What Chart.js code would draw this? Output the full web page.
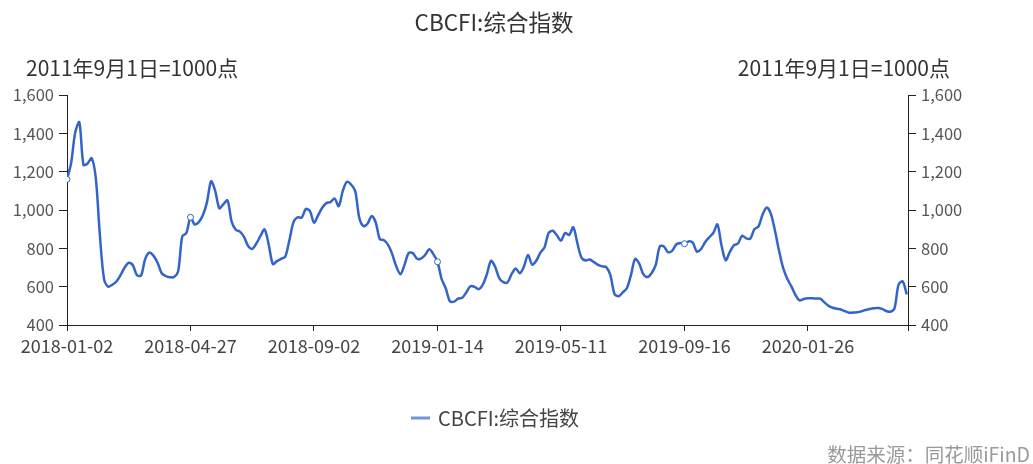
<!DOCTYPE html>
<html><head><meta charset="utf-8">
<script src="https://cdn.jsdelivr.net/npm/chart.js@4"></script>
<style>html,body{margin:0;padding:0;background:#fff;}#wrap{width:1033px;height:464px;position:relative;}</style>
</head><body><div id="wrap"><canvas id="c" width="1033" height="464"></canvas></div>
<script>
const titleText = 'CBCFI:综合指数';
const seriesName = 'CBCFI:综合指数';
const unitText = '2011年9月1日=1000点';
const sourceText = '数据来源：同花顺iFinD';
const tickDates = ['2018-01-02','2018-04-27','2018-09-02','2019-01-14','2019-05-11','2019-09-16','2020-01-26'];
const pointsPerTick = 30;
const xEnd = 204.3;
const yTicks = [400, 600, 800, 1000, 1200, 1400, 1600];
const markedIdx = [0, 30, 90, 150];
const values = [
1160,1245,1405,1458,1235,1243,1270,1165,865,640,
600,610,627,660,700,725,712,660,658,745,
778,762,725,670,655,649,650,680,863,880,
962,925,937,973,1040,1150,1100,1009,1030,1050,
939,897,887,860,812,797,825,865,899,820,
718,733,745,756,840,935,962,960,1005,995,
934,972,1012,1036,1041,1060,1020,1100,1147,1133,
1100,960,916,928,968,935,848,842,818,770,
705,665,715,776,775,747,746,765,795,770,
730,640,592,525,522,537,542,570,602,599,
587,610,665,735,704,645,624,622,665,695,
670,705,765,715,735,778,805,880,892,868,
840,880,870,910,825,750,737,742,728,714,
706,702,660,562,550,570,592,660,745,720,
665,650,670,712,810,810,780,787,820,828,
824,836,830,783,795,832,857,880,925,815,
738,780,815,825,866,852,851,900,915,978,
1013,980,890,785,695,640,600,555,528,536,
539,539,538,537,518,500,490,485,481,472,
464,465,466,472,478,483,487,489,484,473,
469,485,610,628,560
];

const FONT = '"Noto Sans CJK SC", "Noto Sans", sans-serif';
Chart.defaults.font.family = FONT;
const LINE = '#3464c8';

const textPlugin = {
  id: 'texts',
  afterDraw(chart) {
    const ctx = chart.ctx;
    ctx.save();
    ctx.textBaseline = 'middle';
    ctx.fillStyle = '#333';
    ctx.font = '22.5px ' + FONT;
    ctx.textAlign = 'center';
    ctx.fillText(titleText, 494, 22);
    ctx.font = '21px ' + FONT;
    ctx.textAlign = 'left';
    ctx.fillText(unitText, 26, 68);
    ctx.textAlign = 'right';
    ctx.fillText(unitText, 950, 68);
    // legend
    ctx.strokeStyle = '#7096de';
    ctx.lineWidth = 3;
    ctx.beginPath(); ctx.moveTo(411, 418); ctx.lineTo(430, 418); ctx.stroke();
    ctx.fillStyle = '#444';
    ctx.font = '20px ' + FONT;
    ctx.textAlign = 'left';
    ctx.fillText(seriesName, 438, 418);
    ctx.fillStyle = '#999';
    ctx.font = '19.5px ' + FONT;
    ctx.textAlign = 'right';
    ctx.fillText(sourceText, 1030, 455);
    ctx.restore();
  }
};

const yScale = (pos, w) => ({
  type: 'linear', position: pos, min: 400, max: 1600,
  afterBuildTicks: s => { s.ticks = yTicks.map(v => ({value: v})); },
  afterFit: s => { s.width = w; },
  ticks: { color: '#555', font: {size: 16.5}, padding: 5,
    callback: v => Number(v).toLocaleString('en-US') },
  grid: { drawOnChartArea: false, drawTicks: true, tickLength: 8, color: '#222' },
  border: { color: '#222', width: 1 }
});

new Chart(document.getElementById('c'), {
  type: 'line',
  data: {
    datasets: [{
      label: seriesName,
      data: values.map((v, i) => ({x: i, y: v})),
      borderColor: LINE,
      borderWidth: 2.5,
      tension: 0.3,
      pointRadius: ctx => markedIdx.includes(ctx.dataIndex) ? 3 : 0,
      pointBackgroundColor: '#fff',
      pointBorderColor: LINE,
      pointBorderWidth: 1,
      fill: false
    }]
  },
  options: {
    responsive: false,
    animation: false,
    layout: { padding: { top: 95, left: 0, right: 0, bottom: 0 } },
    plugins: { legend: { display: false }, title: { display: false }, tooltip: { enabled: false } },
    scales: {
      x: {
        type: 'linear', min: 0, max: xEnd,
        afterBuildTicks: s => {
          s.ticks = tickDates.map((d, k) => ({value: k * pointsPerTick})).concat([{value: xEnd}]);
        },
        afterFit: s => { s.height = 139; },
        ticks: { color: '#444', font: {size: 18}, padding: 4, autoSkip: false, maxRotation: 0,
          callback: v => { const k = Math.round(v / pointsPerTick); return (Math.abs(v - k * pointsPerTick) < 1e-6 && tickDates[k]) ? tickDates[k] : ''; } },
        grid: { drawOnChartArea: false, tickLength: 6, color: '#222' },
        border: { color: '#222', width: 1 }
      },
      y: yScale('left', 67),
      y2: yScale('right', 125)
    }
  },
  plugins: [textPlugin]
});
</script>
</body></html>
